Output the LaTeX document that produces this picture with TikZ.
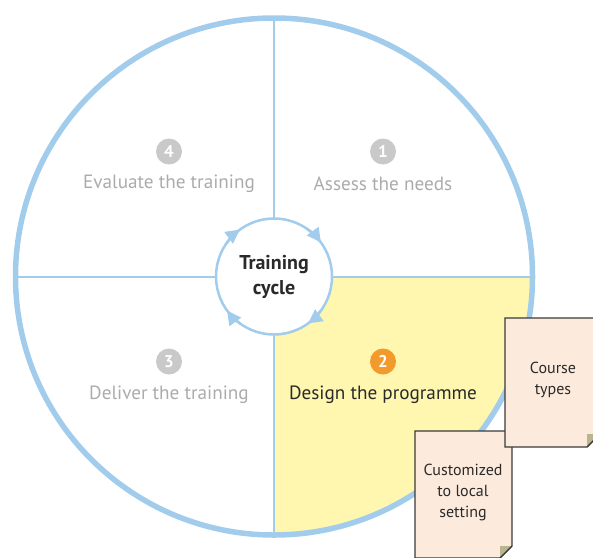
\documentclass[tikz,border=0pt]{standalone}
\usepackage{fontspec}
\setmainfont{PT Sans}
\usetikzlibrary{arrows.meta}
\definecolor{ringblue}{HTML}{A2CCEC}
\definecolor{quadyellow}{HTML}{FFF6B0}
\definecolor{numgrey}{HTML}{C9C9C9}
\definecolor{txtgrey}{HTML}{ABABAB}
\definecolor{numorange}{HTML}{F39A2C}
\definecolor{docfill}{HTML}{FCEBDC}
\definecolor{docfold}{HTML}{B9B58F}
\definecolor{docline}{HTML}{3A3A3A}
\definecolor{darktxt}{HTML}{2A2A2A}
\begin{document}
\begin{tikzpicture}[x=1pt,y=-1pt,
  numdot/.style={circle,minimum size=26pt,inner sep=0pt,font=\bfseries\fontsize{17}{17}\selectfont,text=white},
  steplabel/.style={font=\fontsize{19.2}{22}\selectfont},
  doctext/.style={font=\fontsize{16}{21}\selectfont,text=darktxt,align=center},
  docshape/.style={fill=docfill,draw=docline,line width=1.3pt,line join=miter},
  foldshape/.style={fill=docfold},
  ring/.style={draw=ringblue,line width=5.5pt},
  divider/.style={draw=ringblue,line width=2pt},
  cyclearrow/.style={draw=ringblue,line width=2.5pt,-{Triangle[length=14pt,width=14pt]}}
]
\clip (0,0) rectangle (593,557);
\coordinate (c) at (274,276.5);
% yellow quadrant
\fill[quadyellow] (c) -- ++(258.5,0) arc (0:90:258.5) -- cycle;
% dividers
\coordinate (top) at (274,18);
\coordinate (bot) at (274,535);
\coordinate (lft) at (15.5,276.5);
\coordinate (rgt) at (532.5,276.5);
\draw[divider] (top) -- (bot);
\draw[divider] (lft) -- (rgt);
% outer ring
\draw[ring] (c) circle (258.5);
% hub
\node[circle,draw=ringblue,line width=2.5pt,fill=white,minimum size=116pt,inner sep=0pt,align=center,
      font=\bfseries\fontsize{20}{25}\selectfont,text=darktxt] (hub) at (c) {Training\\cycle};
\foreach \a in {-135,-45,45,135}
  \draw[cyclearrow] (c) ++({\a-10}:58) arc ({\a-10}:{\a+9}:58);
% step labels
\node[numdot,fill=numgrey] (n4) at (169,151.5) {4};
\node[steplabel,text=txtgrey] (l4) at (169,183.5) {Evaluate the training};
\node[numdot,fill=numgrey] (n1) at (383,151.5) {1};
\node[steplabel,text=txtgrey] (l1) at (383,183.5) {Assess the needs};
\node[numdot,fill=numgrey] (n3) at (169,361.5) {3};
\node[steplabel,text=txtgrey] (l3) at (169,394.5) {Deliver the training};
\node[numdot,fill=numorange] (n2) at (383,361.5) {2};
\node[steplabel,text=darktxt] (l2) at (383,394.5) {Design the programme};
% document: customized
\draw[docshape] (415,431) -- (512,431) -- (512,546) -- (500,558) -- (415,558) -- cycle;
\fill[foldshape] (512,546) -- (500,546) -- (500,558) -- cycle;
\draw[docline,line width=1.3pt] (512,546) -- (500,558);
\node[doctext] (d2) at (463,492) {Customized\\to local\\setting};
% document: course types
\draw[docshape] (505,318) -- (600,318) -- (600,434) -- (587,447) -- (505,447) -- cycle;
\fill[foldshape] (600,434) -- (587,434) -- (587,447) -- cycle;
\draw[docline,line width=1.3pt] (600,434) -- (587,447);
\node[doctext] (d1) at (553,380) {Course\\types};
\end{tikzpicture}
\end{document}
